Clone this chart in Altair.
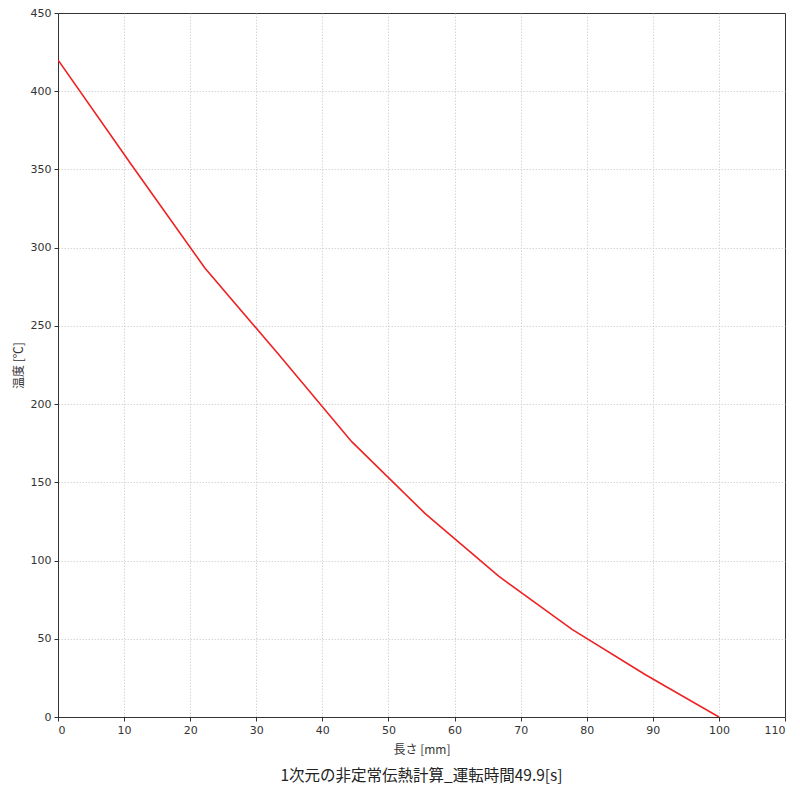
import altair as alt
import pandas as pd

length_mm = [0.0, 11.11, 22.22, 33.33, 44.44, 55.56, 66.67, 77.78, 88.89, 100.0]
temperature_c = [420, 353, 287, 232, 176, 130, 90, 56, 27, 0]

x_ticks = [0, 10, 20, 30, 40, 50, 60, 70, 80, 90, 100, 110]
y_ticks = [0, 50, 100, 150, 200, 250, 300, 350, 400, 450]

df = pd.DataFrame({"length": length_mm, "temp": temperature_c})

FONT = "Noto Sans CJK JP"
NUMFONT = "DejaVu Sans"

chart = alt.Chart(df).mark_line(color="#ee2222", strokeWidth=1.6, clip=True).encode(
    x=alt.X("length:Q",
            scale=alt.Scale(domain=[0, 110], nice=False, zero=False),
            axis=alt.Axis(values=x_ticks, title="長さ [mm]", format="d",
                          gridOpacity=alt.condition("datum.value >= 110", alt.value(0), alt.value(1)))),
    y=alt.Y("temp:Q",
            scale=alt.Scale(domain=[0, 450], nice=False, zero=False),
            axis=alt.Axis(values=y_ticks, title="温度 [℃]", format="d",
                          gridOpacity=alt.condition("datum.value >= 450", alt.value(0), alt.value(1)))),
).properties(
    width=727,
    height=704,
    autosize=alt.AutoSizeParams(type="none"),
    padding={"left": 50, "top": 5, "right": 7, "bottom": 76},
    title=alt.TitleParams(
        "1次元の非定常伝熱計算_運転時間49.9[s]",
        orient="bottom", anchor="middle", fontSize=15.5, fontWeight="normal",
        font=FONT, color="#222222", offset=14,
    ),
).configure_axis(
    labelFont=NUMFONT, titleFont=FONT,
    labelFontSize=11, titleFontSize=12,
    labelColor="#333333", titleColor="#333333",
    titleFontWeight="normal",
    grid=True, gridColor="#cccccc", gridDash=[1.5, 1.5], gridWidth=0.8,
    domainColor="#333333", domainWidth=1,
    tickColor="#333333", tickSize=4, tickWidth=1,
    labelPadding=3,
).configure_axisX(
    titlePadding=9,
).configure_axisY(
    titlePadding=5,
).configure_view(
    stroke="#333333", strokeWidth=1,
)

chart.save("out.html", embed_options={"renderer": "svg", "actions": False})
